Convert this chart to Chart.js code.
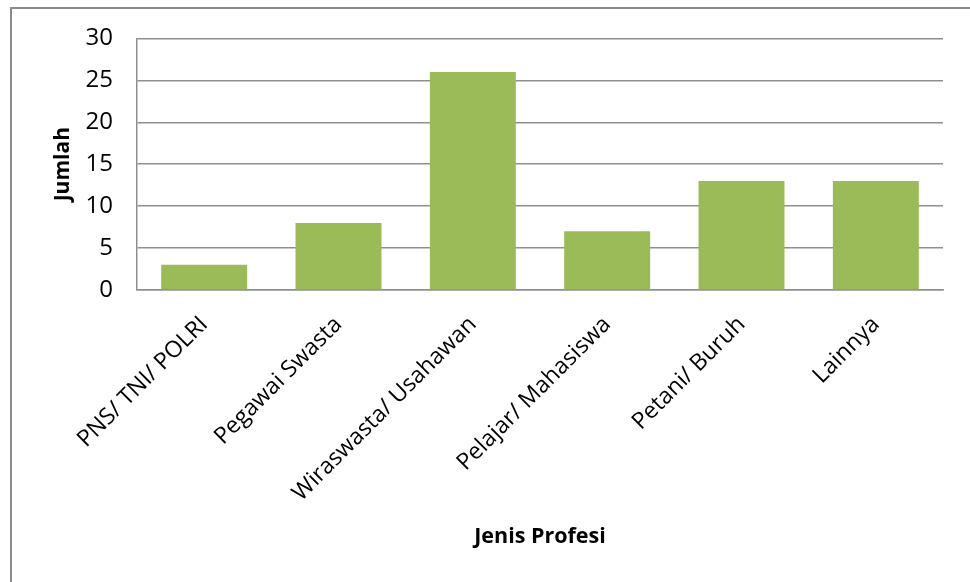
<!DOCTYPE html>
<html>
<head>
<meta charset="utf-8">
<script src="https://cdn.jsdelivr.net/npm/chart.js@4/dist/chart.umd.min.js"></script>
<style>
  html, body { margin: 0; padding: 0; background: #fff; overflow: hidden; }
  #frame {
    position: absolute; left: 10px; top: 7px;
    width: 1000px; height: 600px;
    border: 2px solid #8a8a8a;
  }
  #chart { position: absolute; left: 0; top: 0; }
</style>
</head>
<body>
<div id="frame"></div>
<canvas id="chart" width="970" height="582"></canvas>
<script>
'use strict';

// Jumlah responden per jenis profesi
const categories = ['PNS/ TNI/ POLRI', 'Pegawai Swasta', 'Wiraswasta/ Usahawan', 'Pelajar/ Mahasiswa', 'Petani/ Buruh', 'Lainnya'];
const counts     = [3, 8, 26, 7, 13, 13];
const yTicks     = [0, 5, 10, 15, 20, 25, 30];

const FONT = "'Open Sans', sans-serif";
const GRID = '#8f8f8f';

new Chart(document.getElementById('chart'), {
  type: 'bar',
  data: {
    labels: categories,
    datasets: [{
      data: counts,
      backgroundColor: '#9bbb59',
      borderWidth: 0,
      categoryPercentage: 0.64,
      barPercentage: 1,
    }],
  },
  options: {
    responsive: false,
    animation: false,
    devicePixelRatio: 1,
    layout: { padding: { top: 38, right: 27, bottom: 28, left: 50 } },
    plugins: { legend: { display: false }, tooltip: { enabled: false } },
    scales: {
      x: {
        grid: { display: false, drawTicks: false },
        border: { display: true, color: GRID, width: 1.5 },
        ticks: {
          color: '#000', font: { family: FONT, size: 23 },
          minRotation: 45, maxRotation: 45, padding: 21, autoSkip: false,
        },
        title: {
          display: true, text: 'Jenis Profesi', color: '#000',
          font: { family: FONT, size: 21.5, weight: 'bold' },
        },
        afterFit: s => { s.height = 582 - 290 - 28; },
      },
      y: {
        min: 0, max: 30,
        afterBuildTicks: s => { s.ticks = yTicks.map(v => ({ value: v })); },
        grid: { color: GRID, lineWidth: 1.5, drawTicks: false },
        border: { display: true, color: GRID, width: 1.5 },
        ticks: { color: '#000', font: { family: FONT, size: 24 }, padding: 24 },
        title: {
          display: true, text: 'Jumlah', color: '#000',
          font: { family: FONT, size: 21, weight: 'bold' },
          padding: { top: 0, bottom: 0 },
        },
        afterFit: s => { s.width = 137 - 50; },
      },
    },
  },
});
</script>
</body>
</html>
